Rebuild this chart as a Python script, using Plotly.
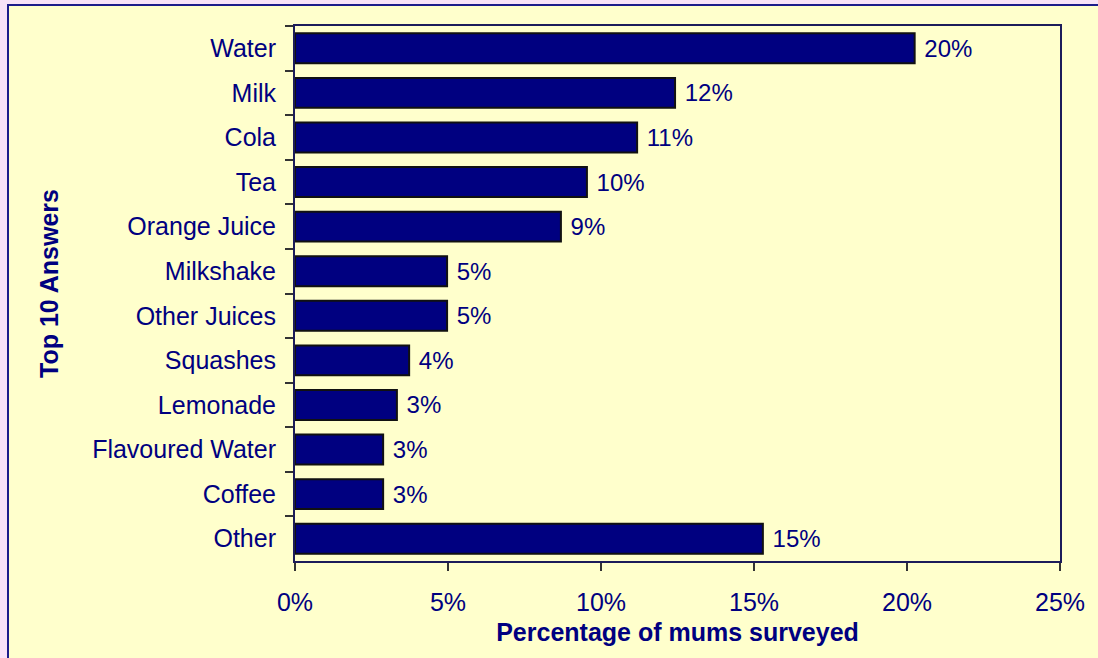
import plotly.graph_objects as go

categories = ["Water", "Milk", "Cola", "Tea", "Orange Juice", "Milkshake",
              "Other Juices", "Squashes", "Lemonade", "Flavoured Water",
              "Coffee", "Other"]
values = [20.25, 12.42, 11.18, 9.54, 8.69, 4.97, 4.97, 3.73, 3.33, 2.88, 2.88, 15.29]
labels = ["20%", "12%", "11%", "10%", "9%", "5%", "5%", "4%", "3%", "3%", "3%", "15%"]
x_ticks = [0, 5, 10, 15, 20, 25]
x_tick_labels = ["0%", "5%", "10%", "15%", "20%", "25%"]

NAVY = "#000080"
FONT = "Liberation Sans, Arial, sans-serif"

fig = go.Figure(go.Bar(
    y=categories, x=values, orientation="h",
    marker=dict(color=NAVY, line=dict(color="#111111", width=2)),
    text=["\u00a0" + t for t in labels], textposition="outside", cliponaxis=False,
    textfont=dict(family=FONT, size=24, color=NAVY),
    width=0.67,
))

L, R, T, B = 295, 38, 26, 97
W, H = 1098, 658
pw = W - L - R
ph = H - T - B

def px_x(x):
    return (x - L) / pw

def px_y(y):
    return (H - B - y) / ph

fig.add_shape(type="rect", xref="paper", yref="paper",
              x0=px_x(8), x1=px_x(1110), y0=px_y(670), y1=px_y(5),
              fillcolor="#FFFFCC", line=dict(color="#1c1c8a", width=2), layer="below")

fig.add_annotation(text="<b>Top 10 Answers</b>", xref="paper", yref="paper",
                   x=px_x(33), y=px_y(284), textangle=-90, showarrow=False,
                   font=dict(family=FONT, size=25, color=NAVY))

fig.update_layout(
    width=W, height=H,
    margin=dict(l=L, r=R, t=T, b=B, pad=0),
    paper_bgcolor="#F8E2F8",
    plot_bgcolor="white",
    showlegend=False,
    font=dict(family=FONT, color=NAVY),
    xaxis=dict(range=[0, 25], tickvals=x_ticks, ticktext=x_tick_labels,
               showgrid=False, zeroline=False,
               showline=True, linecolor="#1c1c5a", linewidth=2, mirror=True,
               ticks="outside", ticklen=8, tickcolor="#333333", tickwidth=1.5,
               ticklabelstandoff=10,
               tickfont=dict(family=FONT, size=25, color=NAVY),
               title=dict(text="<b>Percentage of mums surveyed</b>",
                          font=dict(family=FONT, size=25, color=NAVY), standoff=8)),
    yaxis=dict(autorange="reversed", showgrid=False, zeroline=False,
               showline=True, linecolor="#1c1c5a", linewidth=2, mirror=True,
               ticks="outside", ticklen=8, tickcolor="#333333", tickwidth=1.5,
               tickson="boundaries", ticklabelstandoff=12,
               tickfont=dict(family=FONT, size=25, color=NAVY)),
)

fig.write_html("out.html", config={"displayModeBar": False},
               post_script="document.body.style.margin='0';document.body.style.overflow='hidden';")
